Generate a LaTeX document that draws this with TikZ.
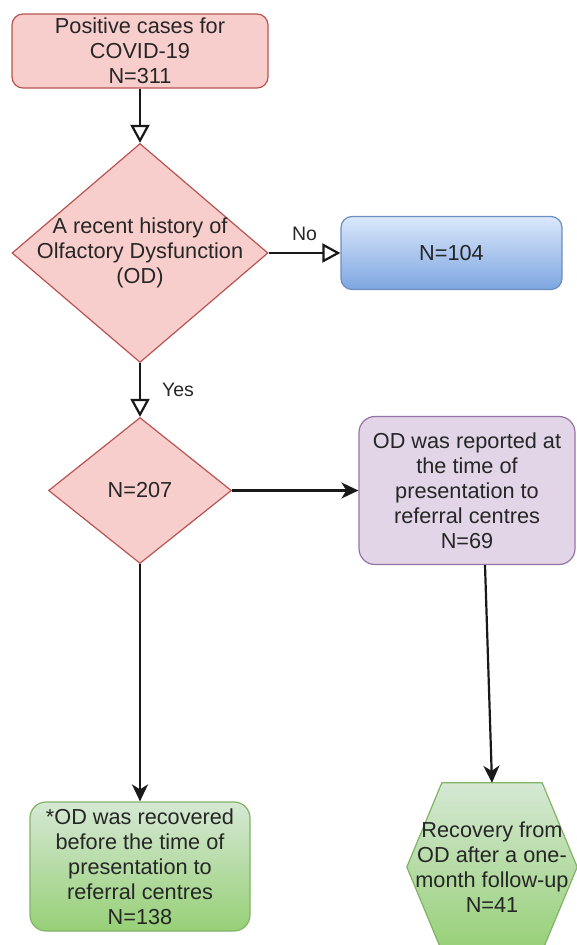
\documentclass[tikz,border=0pt]{standalone}
\usepackage{fontspec}
\setmainfont{Liberation Sans}
\definecolor{CasePink}{HTML}{F8CECC}
\definecolor{CaseRed}{HTML}{B85450}
\definecolor{NoBlueTop}{HTML}{DAE8FC}
\definecolor{NoBlueBot}{HTML}{7EA6E0}
\definecolor{NoBlueLine}{HTML}{6C8EBF}
\definecolor{ODPurple}{HTML}{E1D5E7}
\definecolor{ODPurpleLine}{HTML}{9673A6}
\definecolor{RecGreenTop}{HTML}{D5E8D4}
\definecolor{RecGreenBot}{HTML}{97D077}
\definecolor{RecGreenLine}{HTML}{82B366}
\usetikzlibrary{positioning,shapes.geometric,arrows.meta,backgrounds}
\tikzset{>=latex}
\tikzset{
    boxtext/.style={align=center,text=black!85,inner sep=0pt,font=\fontsize{21.7}{25}\selectfont},
    pinkbox/.style={boxtext,draw=CaseRed,fill=CasePink,line width=1.2pt,rounded corners=11},
    bluebox/.style={boxtext,draw=NoBlueLine,top color=NoBlueTop,bottom color=NoBlueBot,line width=1.2pt,rounded corners=11},
    purplebox/.style={boxtext,draw=ODPurpleLine,fill=ODPurple,line width=1.2pt,rounded corners=16},
    greenbox/.style={boxtext,draw=RecGreenLine,top color=RecGreenTop,bottom color=RecGreenBot,line width=1.2pt,rounded corners=16},
    decision/.style={boxtext,diamond,draw=CaseRed,fill=CasePink,line width=1.2pt},
    hexshape/.style={draw=RecGreenLine,top color=RecGreenTop,bottom color=RecGreenBot,line width=1.2pt},
    openarrow/.style={-{Triangle[open,length=18pt,width=19pt]},line width=2.2pt,black!90},
    flowarrow/.style={-{Stealth[length=17pt,width=16pt,inset=5pt]},line width=2.2pt,black!90},
    branchlabel/.style={text=black!85,font=\fontsize{19.5}{22}\selectfont}
}

\begin{document}
\begin{tikzpicture}[x=1pt,y=-1pt]
        \useasboundingbox (0,0) rectangle (576,945);
        % boxes of the chart
        \node[pinkbox, minimum width=256, minimum height=74] at (140,51) (cases) {Positive cases for\\COVID-19\\N=311};
        \node[decision, minimum width=256, minimum height=219] at (140,253) (history) {};
        \node[boxtext] at (history) (historytext) {A recent history of\\Olfactory Dysfunction\\(OD)};
        \node[bluebox, minimum width=221, minimum height=73] at (451.5,253) (nocase) {N=104};
        \node[decision, minimum width=183, minimum height=146] at (140,490.5) (yescase) {N=207};
        \node[purplebox, minimum width=216, minimum height=148] at (467,490.5) (reported) {OD was reported at\\the time of\\presentation to\\referral centres\\N=69};
        \node[greenbox, minimum width=220, minimum height=129] at (140,866.5) (recovered) {*OD was recovered\\before the time of\\presentation to\\referral centres\\N=138};
        \node[boxtext, minimum width=170, minimum height=168] at (492,867) (followup) {Recovery from\\OD after a one-\\month follow-up\\N=41};
        \begin{scope}[on background layer]
            \draw[hexshape] ([xshift=35]followup.north west) -- ([xshift=-35]followup.north east) -- (followup.east)
                -- ([xshift=-35]followup.south east) -- ([xshift=35]followup.south west) -- (followup.west) -- cycle;
        \end{scope}
        % connectors
        \draw[openarrow] (cases) -- (history);
        \draw[openarrow] (history) -- node[branchlabel,midway,above=8pt]{No} (nocase);
        \draw[openarrow] (history) -- node[branchlabel,midway,anchor=west,inner sep=0pt,xshift=21pt]{Yes} (yescase);
        \draw[flowarrow] (yescase) -- (reported);
        \draw[flowarrow] (yescase) -- (recovered);
        \draw[flowarrow] ([xshift=18]reported.south) -- (followup.north);
    \end{tikzpicture}
\end{document}
